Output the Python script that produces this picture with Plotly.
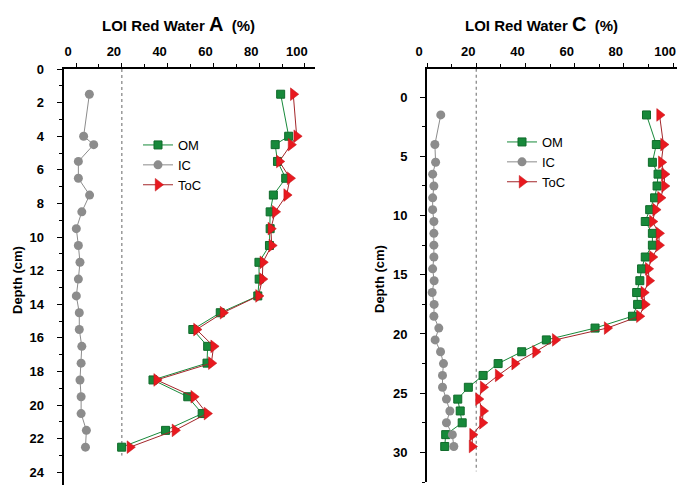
import plotly.graph_objects as go

# ---------------- data ----------------
depth_A = [1.5, 4, 4.5, 5.5, 6.5, 7.5, 8.5, 9.5, 10.5, 11.5, 12.5, 13.5, 14.5,
           15.5, 16.5, 17.5, 18.5, 19.5, 20.5, 21.5, 22.5]
om_A = [89.4, 92.9, 87.0, 88.0, 91.6, 86.2, 84.8, 84.8, 84.5, 79.9, 80.0, 79.4, 63.0,
        51.0, 57.5, 57.2, 33.6, 48.8, 55.1, 39.1, 19.9]
ic_A = [5.8, 3.3, 7.7, 1.0, 1.0, 5.9, 2.5, 0.1, 1.0, 1.7, 1.0, 0.1, 1.4,
        1.4, 2.5, 2.2, 1.7, 2.2, 2.2, 4.5, 4.1]
toc_A = [94.9, 96.4, 93.9, 88.8, 93.5, 92.0, 87.0, 85.1, 85.5, 81.6, 81.4, 79.7, 64.2,
         52.6, 60.1, 59.1, 35.2, 51.4, 57.2, 43.2, 23.5]

depth_C = [1.5, 4, 5.5, 6.5, 7.5, 8.5, 9.5, 10.5, 11.5, 12.5, 13.5, 14.5, 15.5, 16.5,
           17.5, 18.5, 19.5, 20.5, 21.5, 22.5, 23.5, 24.5, 25.5, 26.5, 27.5, 28.5, 29.5]
om_C = [89.2, 93.2, 91.6, 93.9, 93.5, 92.5, 90.5, 88.7, 91.6, 91.6, 88.7, 87.2, 86.5, 85.2,
        85.6, 83.5, 68.3, 48.5, 38.5, 28.9, 22.8, 16.8, 12.5, 13.5, 14.3, 7.6, 7.2]
ic_C = [5.6, 3.2, 3.5, 2.3, 2.8, 2.3, 2.3, 2.8, 2.8, 2.8, 2.8, 2.3, 2.9, 2.1,
        2.9, 2.8, 4.8, 3.3, 5.5, 6.7, 6.3, 6.3, 7.9, 9.3, 7.9, 10.3, 10.9]
toc_C = [94.5, 96.1, 95.2, 96.5, 96.5, 94.9, 92.9, 91.6, 94.3, 94.3, 91.6, 89.9, 90.3, 88.1,
         88.5, 86.3, 73.2, 52.1, 44.1, 35.6, 28.9, 22.8, 20.9, 22.8, 22.5, 18.5, 18.3]

ref_x = [20, 20]
ref_depth_A = [0, 23]
ref_depth_C = [-2.4, 31.6]

x_ticks = [0, 20, 40, 60, 80, 100]
series_names = ["OM", "IC", "ToC"]

# ---------------- styling ----------------
W, H = 677, 485
FONT = "Liberation Sans"
GREEN, GREEN_EDGE = "#17893a", "#0f6a2a"
GREY = "#8c8c8c"
RED, RED_LINE = "#e8191f", "#a3262a"

fig = go.Figure()

def add_panel(xa, ya, depth, om, ic, toc, ref_depth, legend):
    fig.add_trace(go.Scatter(x=ref_x, y=ref_depth, mode="lines", xaxis=xa, yaxis=ya,
                             line=dict(color="#666666", width=1, dash="dot"),
                             showlegend=False, hoverinfo="skip"))
    fig.add_trace(go.Scatter(x=om, y=depth, mode="lines+markers", name=series_names[0],
                             xaxis=xa, yaxis=ya, legend=legend, cliponaxis=False,
                             line=dict(color=GREEN, width=1),
                             marker=dict(symbol="square", size=8, color=GREEN,
                                         line=dict(color=GREEN_EDGE, width=1))))
    fig.add_trace(go.Scatter(x=ic, y=depth, mode="lines+markers", name=series_names[1],
                             xaxis=xa, yaxis=ya, legend=legend, cliponaxis=False,
                             line=dict(color=GREY, width=1),
                             marker=dict(symbol="circle", size=9, color=GREY)))
    fig.add_trace(go.Scatter(x=toc, y=depth, mode="lines+markers", name=series_names[2],
                             xaxis=xa, yaxis=ya, legend=legend, cliponaxis=False,
                             line=dict(color=RED_LINE, width=1),
                             marker=dict(symbol="triangle-right", size=11, color=RED,
                                         line=dict(color="#c01015", width=0.5))))

add_panel("x", "y", depth_A, om_A, ic_A, toc_A, ref_depth_A, "legend")
add_panel("x2", "y2", depth_C, om_C, ic_C, toc_C, ref_depth_C, "legend2")

tickfont = dict(family=FONT, size=13, color="black", weight="bold")
common_x = dict(side="top", showline=True, linecolor="black", linewidth=2,
                ticks="outside", ticklen=4, tickwidth=1, tickcolor="black",
                tickvals=x_ticks, ticktext=[str(v) for v in x_ticks],
                ticklabelshift=-8, ticklabelstandoff=2, automargin=False,
                ticklabeloverflow="allow",
                minor=dict(dtick=10, ticks="outside", ticklen=3, tickcolor="black"),
                showgrid=False, zeroline=False, tickfont=tickfont)
common_y = dict(showline=True, linecolor="black", linewidth=2,
                ticks="outside", ticklen=5, tickwidth=1, tickcolor="black",
                ticklabelstandoff=10, automargin=False,
                showgrid=False, zeroline=False, tickfont=tickfont)

fig.update_layout(
    width=W, height=H,
    margin=dict(l=0, r=0, t=0, b=0, autoexpand=False),
    paper_bgcolor="white", plot_bgcolor="white",
    xaxis=dict(domain=[63.5 / W, 315 / W], range=[-5.5, 104.4], anchor="y", **common_x),
    yaxis=dict(domain=[0, 1 - 69 / H], range=[24.75, 0], anchor="x",
               dtick=2, tick0=0,
               minor=dict(dtick=1, ticks="outside", ticklen=3, tickcolor="black"),
               **common_y),
    xaxis2=dict(domain=[427 / W, 1], range=[0, 101.6], anchor="y2", **common_x),
    yaxis2=dict(domain=[1 - 482 / H, 1 - 69 / H], range=[32.5, -2.38], anchor="x2",
                dtick=5, tick0=0,
                minor=dict(dtick=2.5, ticks="outside", ticklen=3, tickcolor="black"),
                **common_y),
    legend=dict(x=138 / W, y=1 - 130 / H, xanchor="left", yanchor="top",
                bgcolor="rgba(0,0,0,0)", tracegroupgap=0, itemwidth=30,
                font=dict(family=FONT, size=13, color="black")),
    legend2=dict(x=502 / W, y=1 - 127 / H, xanchor="left", yanchor="top",
                 bgcolor="rgba(0,0,0,0)", tracegroupgap=0, itemwidth=30,
                 font=dict(family=FONT, size=13, color="black")),
    showlegend=True,
)

title_font = dict(family=FONT, size=15, color="black", weight="bold")
fig.add_annotation(text="LOI Red Water <span style='font-size:20px'>A</span>  (%)",
                   x=178 / W, y=1 - 24 / H, xref="paper", yref="paper",
                   showarrow=False, font=title_font, xanchor="center", yanchor="middle")
fig.add_annotation(text="LOI Red Water <span style='font-size:20px'>C</span>  (%)",
                   x=541 / W, y=1 - 24 / H, xref="paper", yref="paper",
                   showarrow=False, font=title_font, xanchor="center", yanchor="middle")
fig.add_annotation(text="Depth (cm)", textangle=-90, x=17 / W, y=1 - 280 / H,
                   xref="paper", yref="paper", showarrow=False,
                   font=dict(family=FONT, size=13, color="black", weight="bold"),
                   xanchor="center", yanchor="middle")
fig.add_annotation(text="Depth (cm)", textangle=-90, x=379 / W, y=1 - 279 / H,
                   xref="paper", yref="paper", showarrow=False,
                   font=dict(family=FONT, size=13, color="black", weight="bold"),
                   xanchor="center", yanchor="middle")

fig.write_html("out.html",
               config={"displayModeBar": False},
               post_script="document.body.style.margin='0';document.body.style.padding='0';")
